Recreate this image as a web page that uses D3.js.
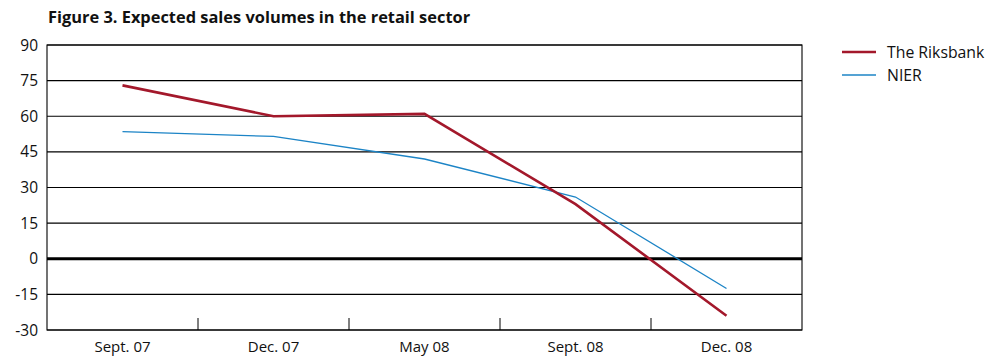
<!DOCTYPE html>
<html><head><meta charset="utf-8">
<script src="https://cdn.jsdelivr.net/npm/d3@7"></script>
<style>body{margin:0;background:#fff}svg{display:block}text{font-family:"Open Sans","Noto Sans",sans-serif;fill:#111}</style>
</head><body>
<svg id="c" width="991" height="356"></svg>
<script>
const categories = ["Sept. 07","Dec. 07","May 08","Sept. 08","Dec. 08"];
const riksbank = [73, 60, 61, 23, -24];
const nier = [53.5, 51.5, 42, 26, -12.5];
const yTicks = [-30,-15,0,15,30,45,60,75,90];
const seriesNames = ["The Riksbank","NIER"];
const colors = ["#a3182b","#1c84c6"];

const svg = d3.select("#c");
const L=47, R=802, T=45, B=330;
const x = d3.scaleBand().domain(categories).range([L,R]);
const y = d3.scaleLinear().domain([-30,90]).range([B,T]);

svg.append("text").attr("x",48).attr("y",23).style("font-weight","bold").style("font-size","16.4px").text("Figure 3. Expected sales volumes in the retail sector");

svg.selectAll(".g").data(yTicks).enter().append("line")
  .attr("x1",L).attr("x2",R).attr("y1",d=>y(d)).attr("y2",d=>y(d))
  .attr("stroke","#000").attr("stroke-width",d=>d===0?3:1.1);
svg.append("rect").attr("x",L).attr("y",T).attr("width",R-L).attr("height",B-T).attr("fill","none").attr("stroke","#000").attr("stroke-width",1.1);

svg.selectAll(".yl").data(yTicks).enter().append("text")
  .attr("x",38).attr("y",d=>y(d)+5.5).attr("text-anchor","end").style("font-size","15.5px").text(d=>d);

const bounds = categories.slice(1).map(c=>x(c));
svg.selectAll(".xt").data(bounds).enter().append("line")
  .attr("x1",d=>d).attr("x2",d=>d).attr("y1",B-12).attr("y2",B).attr("stroke","#000").attr("stroke-width",1);
svg.selectAll(".xl").data(categories).enter().append("text")
  .attr("x",d=>x(d)+x.bandwidth()/2).attr("y",352).attr("text-anchor","middle").style("font-size","15px").text(d=>d);

const line = d3.line().x((d,i)=>x(categories[i])+x.bandwidth()/2).y(d=>y(d));
svg.append("path").datum(nier).attr("d",line).attr("fill","none").attr("stroke",colors[1]).attr("stroke-width",1.3);
svg.append("path").datum(riksbank).attr("d",line).attr("fill","none").attr("stroke",colors[0]).attr("stroke-width",2.6);

seriesNames.forEach((n,i)=>{
  const yy = 52 + i*23;
  svg.append("line").attr("x1",842).attr("x2",876).attr("y1",yy).attr("y2",yy).attr("stroke",colors[i]).attr("stroke-width",i===0?2.6:1.6);
  svg.append("text").attr("x",887).attr("y",yy+5.5).style("font-size","15.8px").text(n);
});
</script>
</body></html>
